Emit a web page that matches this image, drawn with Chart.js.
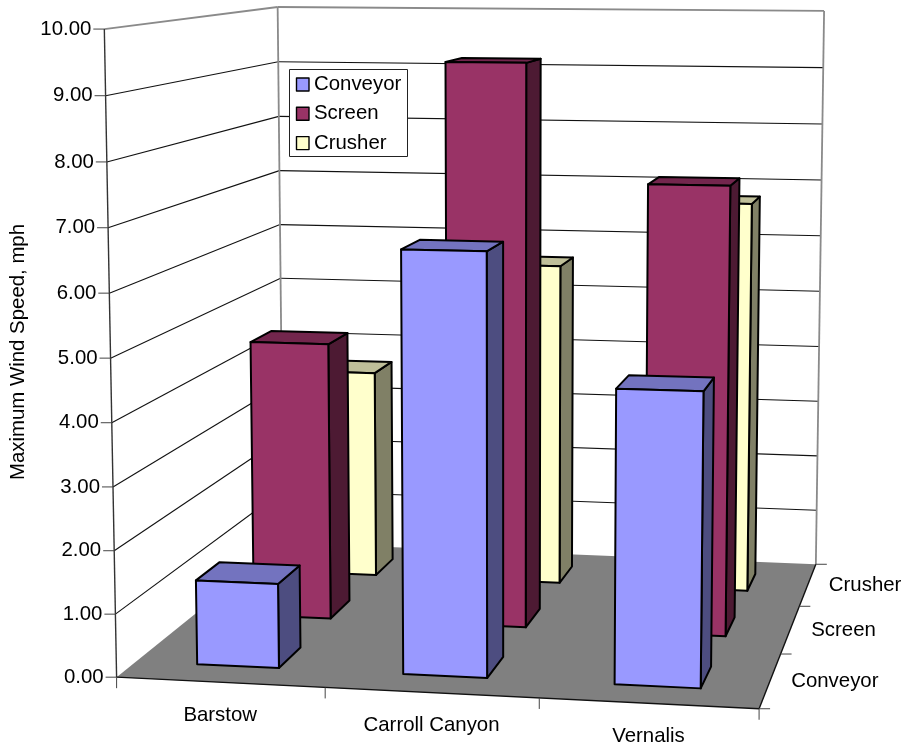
<!DOCTYPE html>
<html>
<head>
<meta charset="utf-8">
<title>Maximum Wind Speed</title>
<script src="https://cdn.jsdelivr.net/npm/chart.js@4"></script>
<style>
  html, body { margin: 0; padding: 0; background: #fff; }
  canvas { display: block; }
</style>
</head>
<body>
<canvas id="windChart" width="906" height="749"></canvas>
<script>
// Sites and the three pieces of equipment
const sites = ["Barstow", "Carroll Canyon", "Vernalis"];
const equipment = ["Conveyor", "Screen", "Crusher"];

// Maximum wind speed per site, mph
const conveyorSpeed = [1.35, 6.65, 4.6];
const screenSpeed = [4.65, 9.33, 7.4];
const crusherSpeed = [3.65, 5.63, 6.78];

const speedTicks = { min: 0, max: 10, step: 1 };
const equipmentColors = ["#9999FF", "#993366", "#FFFFCC"];
const axisTitle = "Maximum Wind Speed, mph";

const FONT = '20.4px "Liberation Sans", Arial, sans-serif';
const WALL = "#8a8a8a";
const LINE = "#111";

// Box corners on screen as [u, v, w, x, y]: u along the sites, v up the speed axis, w into depth
const boxCorners = [
  [0, 0, 0, 117, 677],
  [1, 0, 0, 759, 709],
  [0, 1, 0, 104, 29],
  [0, 0, 1, 283, 543],
  [1, 0, 1, 816, 564],
  [0, 1, 1, 278, 7],
  [1, 1, 1, 824, 11],
];

// Least squares for the 3x4 camera matrix
function solveCamera(points) {
  const rows = [];
  points.forEach(([u, v, w, px, py]) => {
    const x = px / 1000, y = py / 1000;
    rows.push([u, v, w, 1, 0, 0, 0, 0, -x * u, -x * v, -x * w, x]);
    rows.push([0, 0, 0, 0, u, v, w, 1, -y * u, -y * v, -y * w, y]);
  });
  const n = 11;
  const m = [];
  for (let i = 0; i < n; i++) {
    m.push(new Array(n + 1).fill(0));
    for (let j = 0; j <= n; j++) {
      rows.forEach(r => { m[i][j] += r[i] * r[j]; });
    }
  }
  for (let c = 0; c < n; c++) {
    let best = c;
    for (let r = c + 1; r < n; r++) if (Math.abs(m[r][c]) > Math.abs(m[best][c])) best = r;
    [m[c], m[best]] = [m[best], m[c]];
    for (let r = 0; r < n; r++) {
      if (r === c) continue;
      const f = m[r][c] / m[c][c];
      for (let j = c; j <= n; j++) m[r][j] -= f * m[c][j];
    }
  }
  return m.map((row, i) => row[n] / row[i]);
}

const cam = solveCamera(boxCorners);

function project(u, v, w) {
  const d = cam[8] * u + cam[9] * v + cam[10] * w + 1;
  return [
    1000 * (cam[0] * u + cam[1] * v + cam[2] * w + cam[3]) / d,
    1000 * (cam[4] * u + cam[5] * v + cam[6] * w + cam[7]) / d,
  ];
}

function shade(hex, k) {
  const n = parseInt(hex.slice(1), 16);
  const ch = s => Math.round(((n >> s) & 255) * k);
  return `rgb(${ch(16)},${ch(8)},${ch(0)})`;
}

function poly(ctx, pts, fill, stroke, width) {
  ctx.beginPath();
  pts.forEach((p, i) => (i ? ctx.lineTo(p[0], p[1]) : ctx.moveTo(p[0], p[1])));
  ctx.closePath();
  if (fill) { ctx.fillStyle = fill; ctx.fill(); }
  if (stroke) { ctx.strokeStyle = stroke; ctx.lineWidth = width; ctx.stroke(); }
}

function seg(ctx, a, b, color, width) {
  ctx.beginPath();
  ctx.moveTo(a[0], a[1]);
  ctx.lineTo(b[0], b[1]);
  ctx.strokeStyle = color;
  ctx.lineWidth = width;
  ctx.stroke();
}

function label(ctx, text, x, y, align) {
  ctx.font = FONT;
  ctx.fillStyle = "#000";
  ctx.textAlign = align;
  ctx.textBaseline = "middle";
  ctx.fillText(text, x, y);
}

function drawWalls(chart, ctx) {
  const yScale = chart.scales.y;
  const frac = value => (yScale.bottom - yScale.getPixelForValue(value)) / yScale.height;

  poly(ctx, [project(0, 0, 0), project(1, 0, 0), project(1, 0, 1), project(0, 0, 1)], "#808080");

  // Speed gridlines run along the left wall and then the back wall
  yScale.ticks.forEach(t => {
    const v = frac(t.value);
    if (v === 0) return;
    const color = v === 1 ? WALL : LINE;
    const width = v === 1 ? 1.8 : 1.1;
    seg(ctx, project(0, v, 0), project(0, v, 1), color, width);
    seg(ctx, project(0, v, 1), project(1, v, 1), color, width);
  });
  seg(ctx, project(0, 0, 1), project(0, 1, 1), WALL, 1.8);
  seg(ctx, project(1, 0, 1), project(1, 1, 1), WALL, 1.8);

  // Front axes
  seg(ctx, project(0, 0, 0), project(0, 1, 0), "#333", 1.4);
  seg(ctx, project(0, 0, 0), project(1, 0, 0), LINE, 1.4);
  seg(ctx, project(1, 0, 0), project(1, 0, 1), LINE, 1.4);
}

function drawAxes(chart, ctx) {
  const { x: xScale, y: yScale, z: zScale } = chart.scales;
  const area = chart.chartArea;
  const tickColor = "#444";

  yScale.ticks.forEach(t => {
    const p = project(0, (yScale.bottom - yScale.getPixelForValue(t.value)) / yScale.height, 0);
    seg(ctx, p, [p[0] - 11, p[1]], tickColor, 1);
    label(ctx, t.label, p[0] - 13, p[1], "right");
  });

  // Site ticks sit on the category edges, labels under the middles
  for (let i = 0; i <= sites.length; i++) {
    const p = project(i / sites.length, 0, 0);
    seg(ctx, p, [p[0], p[1] + 11], tickColor, 1);
  }
  xScale.getLabels().forEach((name, i) => {
    const p = project((xScale.getPixelForValue(i) - area.left) / area.width, 0, 0);
    label(ctx, name, p[0], p[1] + 33, "center");
  });

  for (let i = 0; i <= equipment.length; i++) {
    const p = project(1, 0, i / equipment.length);
    seg(ctx, p, [p[0] + 11, p[1]], tickColor, 1);
  }
  zScale.getLabels().forEach((name, i) => {
    const p = project(1, 0, (zScale.getPixelForValue(i) - area.left) / area.width);
    label(ctx, name, p[0] + 21, p[1] + 1, "left");
  });

  ctx.save();
  ctx.translate(18, 352);
  ctx.rotate(-Math.PI / 2);
  label(ctx, axisTitle, 0, 0, "center");
  ctx.restore();
}

// One bar element turned into a box: front, top and right faces
function drawBox(chart, ctx, datasetIndex, el) {
  const area = chart.chartArea;
  const halfW = el.width / 2 / area.width;
  const uc = (el.x - area.left) / area.width;
  const wc = (chart.scales.z.getPixelForValue(datasetIndex) - area.left) / area.width;
  const v = (area.bottom - el.y) / area.height;
  const color = equipmentColors[datasetIndex];

  const [u0, u1, w0, w1] = [uc - halfW, uc + halfW, wc - halfW, wc + halfW];
  const stroke = "#000";
  ctx.lineJoin = "round";
  poly(ctx, [project(u1, 0, w0), project(u1, 0, w1), project(u1, v, w1), project(u1, v, w0)],
    shade(color, 0.5), stroke, 2);
  poly(ctx, [project(u0, v, w0), project(u1, v, w0), project(u1, v, w1), project(u0, v, w1)],
    shade(color, 0.75), stroke, 2);
  poly(ctx, [project(u0, 0, w0), project(u1, 0, w0), project(u1, v, w0), project(u0, v, w0)],
    color, stroke, 2);
}

function drawLegend(chart, ctx) {
  poly(ctx, [[289.5, 69.5], [407.5, 69.5], [407.5, 156.5], [289.5, 156.5]], "#fff", "#222", 1);
  chart.data.datasets.forEach((ds, i) => {
    const cy = 84.5 + i * 29.3;
    poly(ctx, [[296.5, cy - 6.5], [309, cy - 6.5], [309, cy + 6.5], [296.5, cy + 6.5]],
      ds.backgroundColor, "#000", 1.4);
    label(ctx, ds.label, 314, cy, "left");
  });
}

const scene3d = {
  id: "scene3d",
  beforeDatasetsDraw(chart) {
    const ctx = chart.ctx;
    ctx.save();
    ctx.fillStyle = "#fff";
    ctx.fillRect(0, 0, chart.width, chart.height);
    drawWalls(chart, ctx);
    drawAxes(chart, ctx);
    // Back row first, and right to left inside a row, so nearer boxes cover farther ones
    for (let d = chart.data.datasets.length - 1; d >= 0; d--) {
      const bars = chart.getDatasetMeta(d).data;
      for (let i = bars.length - 1; i >= 0; i--) drawBox(chart, ctx, d, bars[i]);
    }
    drawLegend(chart, ctx);
    ctx.restore();
    return false;
  },
};

const speedSeries = [conveyorSpeed, screenSpeed, crusherSpeed];

new Chart(document.getElementById("windChart").getContext("2d"), {
  type: "bar",
  data: {
    labels: sites,
    datasets: equipment.map((name, i) => ({
      label: name,
      data: speedSeries[i],
      backgroundColor: equipmentColors[i],
      grouped: false,
      barPercentage: 0.4,
      categoryPercentage: 1,
    })),
  },
  options: {
    responsive: false,
    animation: false,
    events: [],
    plugins: { legend: { display: false }, tooltip: { enabled: false } },
    scales: {
      x: { display: false, offset: true },
      y: {
        display: false,
        min: speedTicks.min,
        max: speedTicks.max,
        ticks: { stepSize: speedTicks.step, callback: v => v.toFixed(2) },
      },
      z: { type: "category", axis: "x", display: false, offset: true, labels: equipment },
    },
  },
  plugins: [scene3d],
});
</script>
</body>
</html>
